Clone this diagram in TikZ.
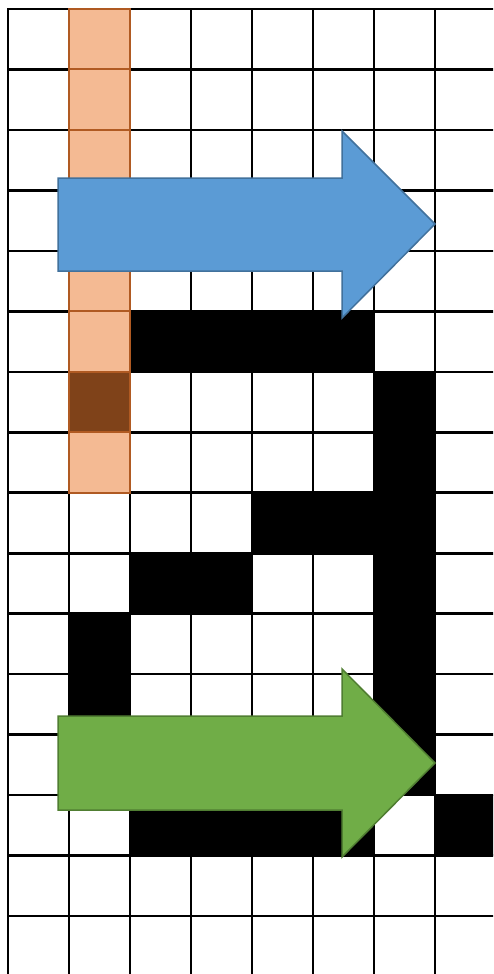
\documentclass[tikz,border=0pt]{standalone}
\definecolor{orfill}{HTML}{F4BA93}
\definecolor{orline}{HTML}{B05A22}
\definecolor{ordark}{HTML}{7F4219}
\definecolor{bluefill}{HTML}{5B9BD5}
\definecolor{blueline}{HTML}{41719C}
\definecolor{greenfill}{HTML}{70AD47}
\definecolor{greenline}{HTML}{507E32}
\tikzset{
  gridline/.style={line width=2.6pt, line cap=rect},
  orcell/.style={draw=orline, fill=orfill, line width=2pt},
  arrowshape/.style={line width=1.5pt, line join=miter}
}
\begin{document}
\begin{tikzpicture}[x=1pt,y=-1pt]
\useasboundingbox (0,0) rectangle (493,974);
\clip (0,0) rectangle (493,974);
\fill[white] (0,0) rectangle (493,974);
\begin{scope}[shift={(8,9)}, x=61pt, y=-60.47pt]
  % black cells
  \fill (2,5) rectangle (6,6);
  \fill (6,6) rectangle (7,13);
  \fill (4,8) rectangle (6,9);
  \fill (2,9) rectangle (4,10);
  \fill (1,10) rectangle (2,12);
  \fill (2,13) rectangle (6,14);
  \fill (7,13) rectangle (8,14);
  % grid
  \foreach \i in {0,...,8} \draw[gridline] (\i,0) -- (\i,16.5);
  \foreach \j in {0,...,16} \draw[gridline] (0,\j) -- (8.5,\j);
  % orange column
  \foreach \r in {0,...,7} \draw[orcell] (1,\r) rectangle (2,\r+1);
  \draw[orcell, fill=ordark] (1,6) rectangle (2,7);
\end{scope}
% blue arrow
\draw[arrowshape, draw=blueline, fill=bluefill]
  (58,178) -- (342,178) -- (342,131) -- (435,224) -- (342,318) -- (342,271) -- (58,271) -- cycle;
% green arrow
\draw[arrowshape, draw=greenline, fill=greenfill]
  (58,716) -- (342,716) -- (342,669) -- (435,763) -- (342,857) -- (342,810) -- (58,810) -- cycle;
\end{tikzpicture}
\end{document}
